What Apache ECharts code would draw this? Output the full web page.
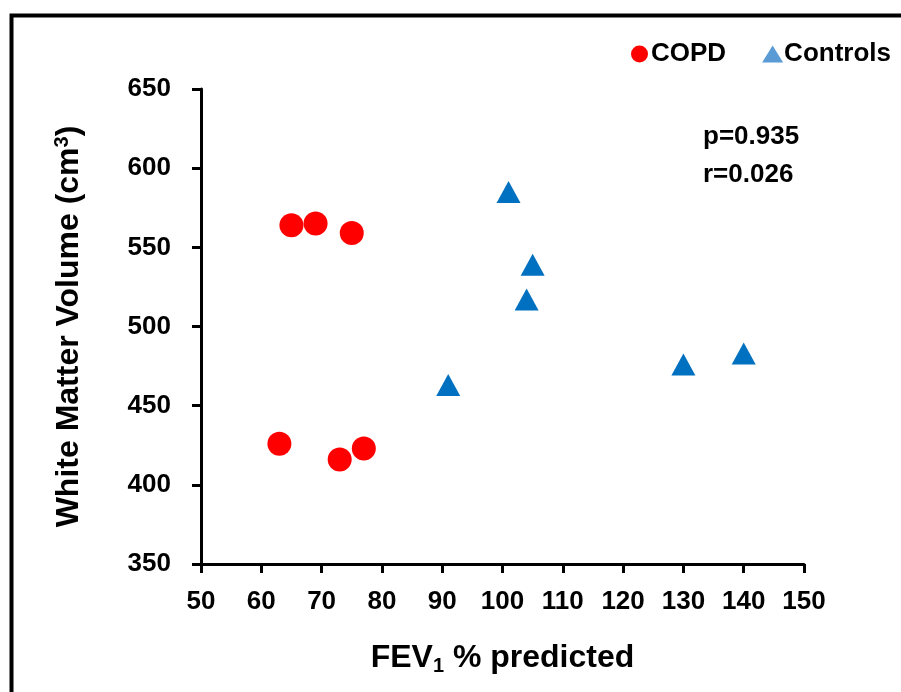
<!DOCTYPE html>
<html><head><meta charset="utf-8">
<script src="https://cdn.jsdelivr.net/npm/echarts@6/dist/echarts.min.js"></script>
<style>html,body{margin:0;padding:0;background:#fff}#c{width:901px;height:692px}</style>
</head><body><div id="c"></div>
<script>
const copdX = [65, 69, 75, 63, 73, 77];
const copdY = [564, 565, 559, 426, 416, 423];
const ctrlX = [101, 105, 104, 91, 130, 140];
const ctrlY = [585, 539, 517, 463, 476, 483];
const xTicks = [50, 60, 70, 80, 90, 100, 110, 120, 130, 140, 150];
const yTicks = [350, 400, 450, 500, 550, 600, 650];
const stats = ['p=0.935', 'r=0.026'];

const FONT = 'Liberation Sans';
const chart = echarts.init(document.getElementById('c'));
chart.setOption({
  animation: false,
  backgroundColor: '#fff',
  textStyle: { fontFamily: FONT },
  grid: { left: 201, top: 89, right: 97, bottom: 128, containLabel: false },
  legend: {
    left: 626, top: 36,
    itemWidth: 21, itemHeight: 17, itemGap: 36,
    textStyle: { fontFamily: FONT, fontWeight: 'bold', fontSize: 26, color: '#000', padding: [0, 0, 0, -4] },
    data: [
      { name: 'COPD', icon: 'circle', itemStyle: { color: '#FF0000', opacity: 1 } },
      { name: 'Controls', icon: 'triangle', itemStyle: { color: '#5B9BD5', opacity: 1 } }
    ]
  },
  xAxis: {
    type: 'value', min: xTicks[0], max: xTicks[xTicks.length - 1], interval: 10,
    name: '{b|FEV}{s|1}{b| % predicted}', nameLocation: 'middle', nameGap: 77,
    nameTextStyle: { rich: {
      b: { fontFamily: FONT, fontWeight: 'bold', fontSize: 32, color: '#000' },
      s: { fontFamily: FONT, fontWeight: 'bold', fontSize: 20, color: '#000', verticalAlign: 'bottom', padding: [15, 0, 0, 0] }
    } },
    axisLine: { onZero: false, lineStyle: { color: '#000', width: 3 } },
    axisTick: { show: true, length: 9, lineStyle: { color: '#000', width: 3 } },
    axisLabel: { fontFamily: FONT, fontWeight: 'bold', fontSize: 26, color: '#000', margin: 25 },
    splitLine: { show: false }
  },
  yAxis: {
    type: 'value', min: yTicks[0], max: yTicks[yTicks.length - 1], interval: 50,
    name: '{b|White Matter Volume (cm}{s|3}{b|)}', nameLocation: 'middle', nameGap: 114, nameRotate: 90,
    nameTextStyle: { rich: {
      b: { fontFamily: FONT, fontWeight: 'bold', fontSize: 32, color: '#000' },
      s: { fontFamily: FONT, fontWeight: 'bold', fontSize: 20, color: '#000', verticalAlign: 'top', padding: [0, 0, 15, 0] }
    } },
    axisLine: { onZero: false, lineStyle: { color: '#000', width: 3 } },
    axisTick: { show: true, length: 9, lineStyle: { color: '#000', width: 3 } },
    axisLabel: { fontFamily: FONT, fontWeight: 'bold', fontSize: 26, color: '#000', margin: 30 },
    splitLine: { show: false }
  },
  series: [
    { name: 'COPD', type: 'scatter', symbol: 'circle', symbolSize: 24,
      itemStyle: { color: '#FF0000', opacity: 1 },
      data: copdX.map((x, i) => [x, copdY[i]]) },
    { name: 'Controls', type: 'scatter', symbol: 'triangle', symbolSize: [24, 22],
      itemStyle: { color: '#0070C0', opacity: 1 },
      data: ctrlX.map((x, i) => [x, ctrlY[i]]) }
  ],
  graphic: [
    { type: 'rect', left: 9, top: 13, shape: { width: 1000, height: 1000 }, silent: true,
      style: { fill: 'none', stroke: '#000', lineWidth: 4 } },
    { type: 'text', silent: true,
      style: { x: 703, y: 137, verticalAlign: 'middle', text: stats[0], fontFamily: FONT, fontWeight: 'bold', fontSize: 26, fill: '#000' } },
    { type: 'text', silent: true,
      style: { x: 703, y: 175, verticalAlign: 'middle', text: stats[1], fontFamily: FONT, fontWeight: 'bold', fontSize: 26, fill: '#000' } }
  ]
});
</script></body></html>
